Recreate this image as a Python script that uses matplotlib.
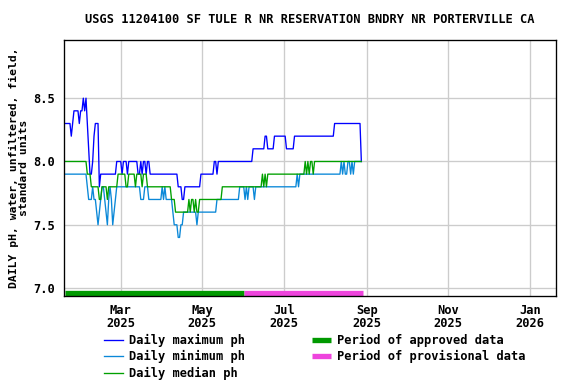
#!/usr/bin/env python3
"""USGS daily pH chart for site 11204100 (SF Tule R nr Porterville)."""

import matplotlib

matplotlib.use("Agg")
import matplotlib.pyplot as plt
import numpy as np
import pandas as pd

TITLE = "USGS 11204100 SF TULE R NR RESERVATION BNDRY NR PORTERVILLE CA"
YLABEL = "DAILY pH, water, unfiltered, field,\nstandard units"

START = "2025-01-18"

# daily values, stored as (value, number of consecutive days)
max_vals = [8.3, 8.2, 8.3, 8.4, 8.3, 8.4, 8.5, 8.4, 8.5, 8.3, 8.1, 7.9, 8.0, 8.2, 8.3,
            7.8, 7.9, 8.0, 7.9, 8.0, 7.9, 8.0, 7.9, 8.0, 7.9, 8.0, 7.9, 8.0, 7.9, 7.8,
            7.7, 7.8, 7.9, 8.0, 7.9, 8.0, 8.1, 8.2, 8.1, 8.2, 8.1, 8.2, 8.3, 8.0]
max_days = [5, 1, 1, 4, 1, 2, 1, 1, 1, 1, 1, 2, 1, 1, 3,
            1, 12, 4, 1, 3, 1, 7, 2, 1, 1, 2, 1, 2, 21, 3,
            2, 12, 10, 2, 1, 26, 9, 2, 5, 9, 6, 30, 20, 1]

min_vals = [7.9, 7.8, 7.7, 7.8, 7.7, 7.6, 7.5, 7.6, 7.7, 7.8, 7.7, 7.6, 7.5, 7.7,
            7.8, 7.7, 7.5, 7.6, 7.7, 7.8, 7.7, 7.8, 7.7, 7.8, 7.7, 7.8, 7.7, 7.6,
            7.5, 7.4, 7.5, 7.6, 7.5, 7.6, 7.7, 7.8, 7.7, 7.8, 7.7, 7.8, 7.7, 7.8,
            7.9, 7.8, 7.9, 8.0, 7.9, 8.0, 7.9, 8.0, 7.9, 8.0, 7.9, 8.0]
min_days = [17, 1, 3, 1, 2, 1, 1, 1, 1, 2, 1, 1, 1, 1,
            1, 1, 1, 1, 1, 18, 3, 3, 10, 1, 1, 1, 5, 1,
            3, 2, 2, 10, 1, 14, 17, 4, 1, 1, 1, 4, 1, 31,
            1, 1, 31, 1, 1, 1, 2, 2, 1, 1, 1, 6]

med_vals = [8.0, 7.9, 7.8, 7.7, 7.8, 7.7, 7.8, 7.9, 7.8, 7.9, 7.8, 7.9, 7.8, 7.9,
            7.8, 7.7, 7.6, 7.7, 7.6, 7.7, 7.6, 7.7, 7.6, 7.7, 7.8, 7.9, 7.8, 7.9,
            7.8, 7.9, 8.0, 7.9, 8.0, 7.9, 8.0, 7.9, 8.0]
med_days = [17, 3, 6, 2, 4, 1, 7, 6, 2, 5, 1, 4, 1, 3,
            18, 3, 10, 1, 1, 2, 1, 1, 2, 17, 30, 1, 1, 1,
            1, 28, 1, 1, 1, 1, 2, 1, 36]

approved = ("2025-01-18", "2025-06-01")
provisional = ("2025-06-01", "2025-08-29")

xticks = ["2025-03-01", "2025-05-01", "2025-07-01", "2025-09-01", "2025-11-01", "2026-01-01"]
xticklabels = ["Mar\n2025", "May\n2025", "Jul\n2025", "Sep\n2025", "Nov\n2025", "Jan\n2026"]
yticks = [7.0, 7.5, 8.0, 8.5]

FS = 9
FONT = {"family": "DejaVu Sans Mono", "weight": "bold", "size": FS}
plt.rcParams.update({"font.family": "DejaVu Sans Mono", "font.weight": "bold", "font.size": FS})

ymax = np.repeat(max_vals, max_days)
ymin = np.repeat(min_vals, min_days)
ymed = np.repeat(med_vals, med_days)
dates = pd.date_range(START, periods=len(ymax), freq="D")

fig = plt.figure(figsize=(6, 4), dpi=96)
ax = fig.add_axes([0.111, 0.229, 0.854, 0.667])

ax.plot(dates, ymax, color="#0000ff", lw=1, label="Daily maximum ph")
ax.plot(dates, ymin, color="#0a88d8", lw=1, label="Daily minimum ph")
ax.plot(dates, ymed, color="#00a000", lw=1, label="Daily median ph")

ax.plot(pd.to_datetime(approved), [6.96, 6.96], color="#009900", lw=4,
        solid_capstyle="butt", label="Period of approved data")
ax.plot(pd.to_datetime(provisional), [6.96, 6.96], color="#ee44dd", lw=4,
        solid_capstyle="butt", label="Period of provisional data")

ax.set_xlim(pd.Timestamp("2025-01-17 12:00"), pd.Timestamp("2026-01-20 12:00"))
ax.set_ylim(6.937, 8.96)
ax.set_xticks(pd.to_datetime(xticks))
ax.set_xticklabels(xticklabels, linespacing=1.0)
ax.set_yticks(yticks)
ax.set_yticklabels([f"{v:.1f}" for v in yticks])
ax.tick_params(axis="x", length=0, pad=6)
ax.tick_params(axis="y", length=0, pad=7)
ax.grid(True, color="#cccccc", lw=1)
ax.set_axisbelow(True)
for s in ax.spines.values():
    s.set_color("black")
    s.set_linewidth(1)

ax.set_title(TITLE, fontsize=FS, fontweight="bold", pad=13)
ax.set_ylabel(YLABEL, fontsize=8.5, fontweight="bold", labelpad=3, linespacing=1.0)

fig.legend(loc="upper left", bbox_to_anchor=(0.172, 0.143), ncol=2, frameon=False,
           handlelength=1.6, columnspacing=5.6, labelspacing=0.28, handletextpad=0.5,
           prop=FONT, borderaxespad=0)

fig.savefig("out.png", dpi=96)
